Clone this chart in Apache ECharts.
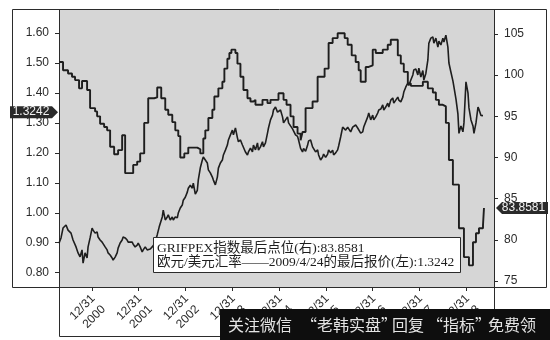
<!DOCTYPE html>
<html><head><meta charset="utf-8">
<script src="https://cdn.jsdelivr.net/npm/echarts@6/dist/echarts.min.js"></script>
<style>html,body{margin:0;padding:0;background:#fff}#c{width:550px;height:340px}</style>
</head><body><div id="c"></div>
<script>
// ---- data (decimal years on x) ----
const xTickYears = [2000, 2001, 2002, 2003, 2004, 2005, 2006, 2007, 2008];
const leftTicks = [0.8, 0.9, 1.0, 1.1, 1.2, 1.3, 1.4, 1.5, 1.6];
const rightTicks = [75, 80, 85, 90, 95, 100, 105];
const lastGrif = 83.8581;
const lastEur = 1.3242;
const legendLine1 = 'GRIFPEX指数最后点位(右):83.8581';
const legendLine2 = '欧元/美元汇率——2009/4/24的最后报价(左):1.3242';
const watermark = ['关注微信', '“老韩实盘”', '回复', '“指标”', '免费领'];

// GRIFPEX index (right axis), monthly step values
const grifpex = [
[2000.300,101.6],[2000.386,100.6],[2000.493,100.2],[2000.578,99.8],[2000.643,99.4],[2000.728,98.4],
[2000.792,99.3],[2000.900,98.2],[2000.964,96.0],[2001.071,95.6],[2001.114,95.0],[2001.178,94.1],
[2001.264,93.7],[2001.328,93.3],[2001.392,91.3],[2001.478,90.4],[2001.563,90.9],[2001.649,92.7],
[2001.713,88.1],[2001.885,89.1],[2001.970,89.5],[2002.034,90.5],[2002.120,94.2],[2002.206,97.2],
[2002.334,97.3],[2002.398,98.5],[2002.484,97.2],[2002.570,95.8],[2002.634,95.2],[2002.720,94.3],
[2002.784,93.3],[2002.848,92.6],[2002.891,90.0],[2002.977,90.5],[2003.062,91.2],[2003.255,91.0],
[2003.319,90.5],[2003.383,92.3],[2003.426,93.3],[2003.491,94.8],[2003.576,95.8],[2003.619,97.4],
[2003.705,98.4],[2003.790,99.2],[2003.833,100.8],[2003.897,102.0],[2003.940,102.7],[2003.983,103.1],
[2004.069,102.7],[2004.112,101.4],[2004.176,99.8],[2004.240,98.2],[2004.326,97.2],[2004.390,96.8],
[2004.454,97.0],[2004.497,96.4],[2004.647,97.0],[2004.754,96.6],[2004.818,97.0],[2004.989,97.8],
[2005.097,97.0],[2005.161,96.4],[2005.246,95.0],[2005.311,93.7],[2005.396,92.9],[2005.461,92.1],
[2005.503,93.1],[2005.568,96.0],[2005.717,96.8],[2005.825,99.8],[2005.974,100.8],[2006.060,103.9],
[2006.146,104.5],[2006.253,105.1],[2006.403,104.5],[2006.467,103.7],[2006.553,102.4],[2006.638,101.6],
[2006.702,100.6],[2006.745,99.2],[2006.852,101.0],[2006.917,101.2],[2007.002,103.1],[2007.067,102.7],
[2007.216,103.1],[2007.323,103.7],[2007.388,104.3],[2007.538,102.4],[2007.602,101.4],[2007.666,100.4],
[2007.752,99.0],[2007.816,98.7],[2008.073,99.2],[2008.180,98.4],[2008.287,97.9],[2008.351,97.0],
[2008.416,96.4],[2008.501,96.2],[2008.565,94.2],[2008.630,89.7],[2008.715,86.7],[2008.844,81.4],
[2008.951,77.9],[2009.058,76.9],[2009.144,79.7],[2009.208,80.8],[2009.272,81.4],[2009.358,81.8],
[2009.379,83.8581]
];

// EUR/USD (left axis)
const eurUsd = [
[2000.300,0.898],[2000.343,0.916],[2000.386,0.949],[2000.450,0.959],[2000.493,0.942],[2000.557,0.932],
[2000.600,0.909],[2000.664,0.886],[2000.707,0.866],[2000.750,0.853],[2000.792,0.876],[2000.814,0.832],
[2000.857,0.866],[2000.900,0.849],[2000.921,0.886],[2000.964,0.916],[2001.007,0.949],[2001.028,0.942],
[2001.071,0.932],[2001.114,0.936],[2001.135,0.919],[2001.178,0.909],[2001.221,0.902],[2001.242,0.899],
[2001.285,0.886],[2001.328,0.876],[2001.349,0.866],[2001.392,0.859],[2001.435,0.849],[2001.456,0.842],
[2001.499,0.852],[2001.542,0.866],[2001.563,0.882],[2001.606,0.899],[2001.649,0.909],[2001.670,0.919],
[2001.713,0.916],[2001.756,0.909],[2001.778,0.902],[2001.820,0.899],[2001.863,0.902],[2001.885,0.895],
[2001.927,0.886],[2001.970,0.892],[2001.992,0.899],[2002.034,0.886],[2002.077,0.869],[2002.099,0.876],
[2002.142,0.886],[2002.184,0.876],[2002.206,0.882],[2002.249,0.879],[2002.291,0.886],[2002.334,0.895],
[2002.356,0.905],[2002.398,0.926],[2002.441,0.953],[2002.506,0.986],[2002.527,1.009],[2002.570,0.976],
[2002.613,0.986],[2002.634,0.993],[2002.677,0.976],[2002.720,0.986],[2002.741,0.976],[2002.784,0.986],
[2002.827,0.983],[2002.848,0.999],[2002.891,1.016],[2002.934,1.026],[2002.955,1.042],[2002.998,1.052],
[2003.041,1.069],[2003.062,1.082],[2003.105,1.092],[2003.148,1.082],[2003.169,1.099],[2003.212,1.062],
[2003.255,1.075],[2003.276,1.110],[2003.319,1.150],[2003.362,1.176],[2003.383,1.186],[2003.426,1.176],
[2003.469,1.166],[2003.491,1.143],[2003.533,1.133],[2003.576,1.119],[2003.598,1.109],[2003.640,1.093],
[2003.683,1.119],[2003.705,1.149],[2003.747,1.166],[2003.790,1.176],[2003.812,1.193],[2003.855,1.209],
[2003.897,1.226],[2003.919,1.243],[2003.962,1.260],[2004.004,1.276],[2004.026,1.260],[2004.069,1.283],
[2004.112,1.250],[2004.133,1.237],[2004.176,1.243],[2004.219,1.226],[2004.240,1.220],[2004.283,1.203],
[2004.326,1.193],[2004.347,1.203],[2004.390,1.216],[2004.433,1.203],[2004.454,1.226],[2004.497,1.210],
[2004.540,1.233],[2004.561,1.209],[2004.604,1.220],[2004.647,1.237],[2004.668,1.220],[2004.711,1.233],
[2004.754,1.266],[2004.775,1.283],[2004.818,1.310],[2004.861,1.326],[2004.882,1.343],[2004.925,1.353],
[2004.968,1.336],[2004.989,1.333],[2005.032,1.343],[2005.075,1.320],[2005.097,1.300],[2005.139,1.310],
[2005.182,1.320],[2005.204,1.300],[2005.246,1.290],[2005.289,1.280],[2005.311,1.283],[2005.353,1.260],
[2005.396,1.255],[2005.418,1.243],[2005.461,1.215],[2005.503,1.203],[2005.525,1.215],[2005.568,1.205],
[2005.610,1.225],[2005.632,1.240],[2005.675,1.243],[2005.717,1.220],[2005.739,1.225],[2005.782,1.203],
[2005.825,1.210],[2005.846,1.193],[2005.889,1.176],[2005.932,1.186],[2005.953,1.196],[2005.996,1.185],
[2006.039,1.196],[2006.060,1.210],[2006.103,1.200],[2006.146,1.209],[2006.167,1.193],[2006.210,1.200],
[2006.253,1.210],[2006.274,1.223],[2006.317,1.253],[2006.360,1.286],[2006.381,1.280],[2006.424,1.276],
[2006.467,1.286],[2006.488,1.280],[2006.531,1.270],[2006.574,1.286],[2006.595,1.280],[2006.638,1.293],
[2006.681,1.283],[2006.702,1.286],[2006.745,1.266],[2006.788,1.270],[2006.810,1.286],[2006.852,1.290],
[2006.895,1.320],[2006.917,1.333],[2006.959,1.310],[2007.002,1.326],[2007.024,1.310],[2007.067,1.320],
[2007.109,1.333],[2007.131,1.343],[2007.174,1.346],[2007.216,1.360],[2007.238,1.343],[2007.281,1.353],
[2007.323,1.366],[2007.345,1.353],[2007.388,1.376],[2007.431,1.383],[2007.452,1.366],[2007.495,1.376],
[2007.538,1.386],[2007.559,1.376],[2007.602,1.370],[2007.645,1.386],[2007.666,1.403],[2007.709,1.420],
[2007.752,1.433],[2007.773,1.425],[2007.816,1.443],[2007.859,1.460],[2007.880,1.477],[2007.923,1.480],
[2007.966,1.460],[2007.987,1.483],[2008.030,1.453],[2008.073,1.475],[2008.094,1.443],[2008.137,1.465],
[2008.180,1.510],[2008.201,1.566],[2008.244,1.583],[2008.287,1.587],[2008.308,1.566],[2008.351,1.583],
[2008.394,1.553],[2008.416,1.573],[2008.458,1.560],[2008.501,1.583],[2008.523,1.570],[2008.565,1.593],
[2008.608,1.553],[2008.630,1.500],[2008.672,1.470],[2008.715,1.440],[2008.737,1.420],[2008.780,1.380],
[2008.822,1.330],[2008.844,1.265],[2008.887,1.290],[2008.929,1.270],[2008.951,1.300],[2008.994,1.437],
[2009.037,1.400],[2009.058,1.350],[2009.101,1.310],[2009.144,1.290],[2009.165,1.265],[2009.208,1.300],
[2009.251,1.353],[2009.272,1.345],[2009.315,1.325],[2009.358,1.3242]
];

// ---- chart ----
const chart = echarts.init(document.getElementById('c'), null, { renderer: 'canvas' });
const ink = '#2b2b2b';
const axisFont = 'Liberation Sans, Arial, sans-serif';
const xTickValues = xTickYears.map(y => y + 1);

chart.setOption({
  animation: false,
  backgroundColor: '#ffffff',
  grid: { left: 59, right: 56, top: 10, bottom: 53, show: true, backgroundColor: '#d6d6d6', borderWidth: 0 },
  xAxis: {
    type: 'value', min: 2000.30, max: 2009.593,
    axisLine: { show: true, lineStyle: { color: ink, width: 1 } },
    axisTick: { show: true, length: 4, customValues: xTickValues, lineStyle: { color: ink } },
    axisLabel: { show: false },
    splitLine: { show: false }
  },
  yAxis: [
    {
      type: 'value', position: 'left', min: 0.7522, max: 1.6768,
      axisLine: { show: true, lineStyle: { color: ink, width: 1 } },
      axisTick: { show: true, length: 4, customValues: leftTicks, lineStyle: { color: ink } },
      axisLabel: { customValues: leftTicks, formatter: v => v.toFixed(2), fontSize: 12, color: ink, margin: 10, fontFamily: axisFont },
      splitLine: { show: false }
    },
    {
      type: 'value', position: 'right', min: 74.27, max: 107.915,
      axisLine: { show: true, lineStyle: { color: ink, width: 1 } },
      axisTick: { show: true, length: 4, customValues: rightTicks, lineStyle: { color: ink } },
      axisLabel: { customValues: rightTicks, formatter: v => String(v), fontSize: 12, color: ink, margin: 10, fontFamily: axisFont },
      splitLine: { show: false }
    }
  ],
  series: [
    { name: 'GRIFPEX', type: 'line', yAxisIndex: 1, step: 'end', data: grifpex, showSymbol: false,
      lineStyle: { color: '#1e1e1e', width: 1.9 } },
    { name: 'EURUSD', type: 'line', yAxisIndex: 0, data: eurUsd, showSymbol: false,
      lineStyle: { color: '#1e1e1e', width: 1.6 } }
  ]
});

const yL = chart.convertToPixel({ yAxisIndex: 0 }, lastEur) - 3.5;
const yR = chart.convertToPixel({ yAxisIndex: 1 }, lastGrif);
const legendFont = "13.5px 'Liberation Serif', 'Noto Sans CJK SC', serif";
const wmFont = "16px 'Noto Sans CJK SC', sans-serif";
const wmX = [228, 301, 392, 427, 488];

const graphics = [
  { type: 'rect', z: 100, shape: { x: 12.5, y: 9.5, width: 534, height: 278 }, style: { fill: null, stroke: ink, lineWidth: 1 } },
  { type: 'rect', z: 100, shape: { x: 59.5, y: 287.5, width: 435, height: 49 }, style: { fill: null, stroke: ink, lineWidth: 1 } },
  { type: 'line', z: 100, shape: { x1: 494.5, y1: 287, x2: 494.5, y2: 340 }, style: { stroke: ink, lineWidth: 1 } },
  { type: 'rect', z: 110, shape: { x: 153.5, y: 237.5, width: 307, height: 35 }, style: { fill: '#ffffff', stroke: ink, lineWidth: 1 } },
  { type: 'text', z: 111, x: 157, y: 248.5, style: { text: legendLine1, font: legendFont, fill: '#1e1e1e', verticalAlign: 'middle' } },
  { type: 'text', z: 111, x: 157, y: 262, style: { text: legendLine2, font: legendFont, fill: '#1e1e1e', verticalAlign: 'middle' } },
  { type: 'polygon', z: 120, shape: { points: [[10, yL - 6], [52, yL - 6], [58, yL], [52, yL + 6], [10, yL + 6]] }, style: { fill: '#2a2a2a' } },
  { type: 'text', z: 121, x: 31, y: yL, style: { text: lastEur.toFixed(4), font: "12px 'Liberation Sans', Arial, sans-serif", fill: '#f2f2f2', align: 'center', verticalAlign: 'middle' } },
  { type: 'polygon', z: 120, shape: { points: [[496, yR], [502, yR - 6], [548, yR - 6], [548, yR + 6], [502, yR + 6]] }, style: { fill: '#2a2a2a' } },
  { type: 'text', z: 121, x: 523.5, y: yR, style: { text: lastGrif.toFixed(4), font: "12px 'Liberation Sans', Arial, sans-serif", fill: '#f2f2f2', align: 'center', verticalAlign: 'middle' } },
  { type: 'rect', z: 130, shape: { x: 220, y: 309, width: 330, height: 31 }, style: { fill: '#0e0e0e' } }
];
// rotated x-axis labels placed at the axis' own tick positions
xTickYears.forEach(yr => {
  const px = chart.convertToPixel({ xAxisIndex: 0 }, yr + 1);
  graphics.push({ type: 'text', z: 105, x: px - 4, y: 291.5, rotation: Math.PI / 4,
    style: { text: '12/31\n' + yr, font: "12px 'Liberation Sans', Arial, sans-serif", fill: ink,
      align: 'right', verticalAlign: 'top', lineHeight: 15 } });
});
watermark.forEach((t, i) => {
  graphics.push({ type: 'text', z: 131, x: wmX[i], y: 325, style: { text: t, font: wmFont, fill: '#e4e4e4', verticalAlign: 'middle' } });
});
chart.setOption({ graphic: graphics });
</script>
</body></html>
